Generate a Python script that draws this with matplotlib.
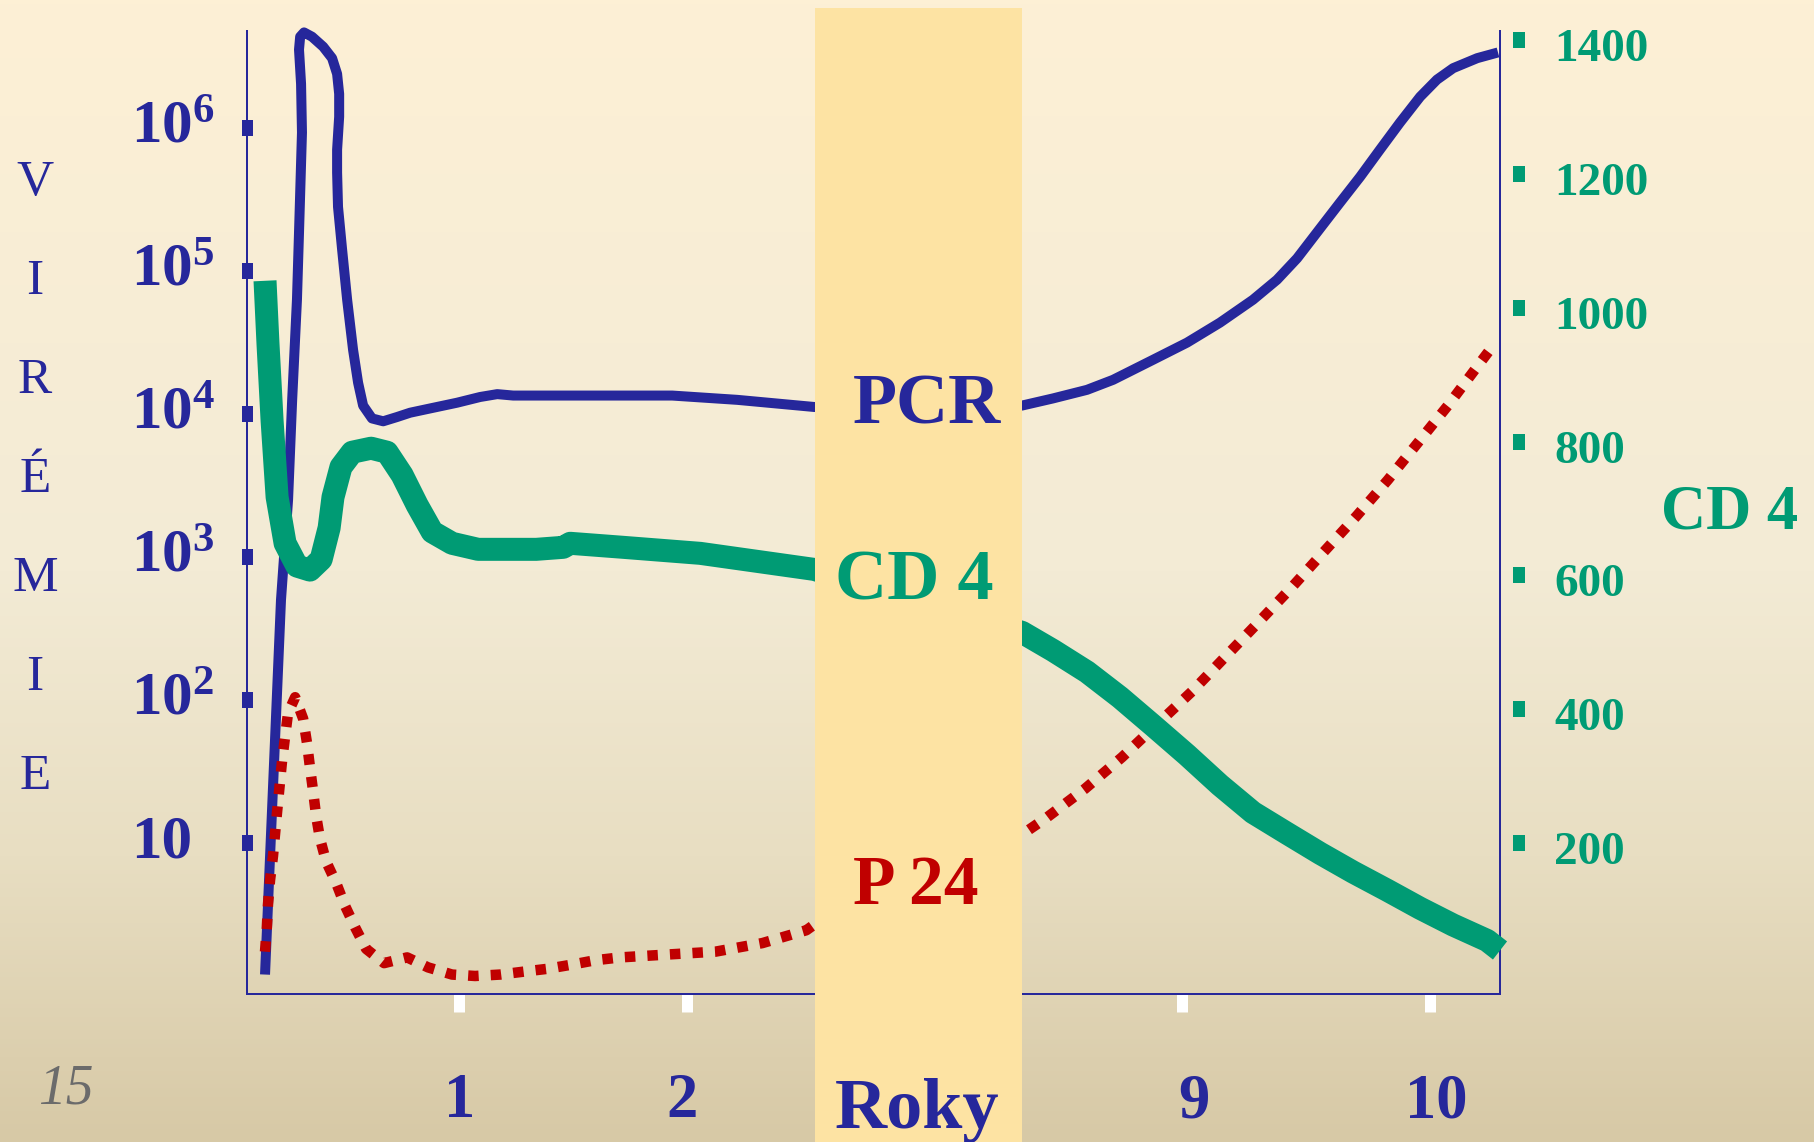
import numpy as np
import matplotlib
matplotlib.use("Agg")
import matplotlib.pyplot as plt
from matplotlib.colors import LinearSegmentedColormap
from matplotlib.ticker import NullLocator
from matplotlib.transforms import ScaledTranslation

# Values (x = years after infection)
pcr_years = [0.149, 0.219, 0.250, 0.268, 0.289, 0.298, 0.311, 0.307, 0.298, 0.303,
             0.320, 0.355, 0.404, 0.443, 0.465, 0.474, 0.474, 0.465, 0.465, 0.469,
             0.487, 0.509, 0.535, 0.557, 0.579, 0.618, 0.667, 0.728, 0.785, 0.873,
             0.991, 1.092, 1.167, 1.237, 1.794, 1.934, 2.219, 2.557,
             8.355, 8.480, 8.617, 8.722, 8.883, 9.020, 9.153, 9.286, 9.383, 9.464,
             9.557, 9.637, 9.718, 9.798, 9.879, 9.960, 10.028, 10.093, 10.190, 10.274]
pcr_log10 = [0.08, 2.70, 3.40, 4.10, 4.80, 5.27, 5.97, 6.31, 6.55, 6.64,
             6.67, 6.64, 6.57, 6.49, 6.38, 6.24, 6.08, 5.85, 5.69, 5.45,
             5.15, 4.80, 4.45, 4.22, 4.06, 3.97, 3.95, 3.98, 4.01, 4.04,
             4.08, 4.12, 4.14, 4.13, 4.13, 4.13, 4.10, 4.05,
             4.06, 4.11, 4.17, 4.24, 4.38, 4.50, 4.64, 4.80, 4.94, 5.09,
             5.30, 5.48, 5.66, 5.85, 6.04, 6.22, 6.34, 6.42, 6.49, 6.53]

cd4_years = [0.149, 0.162, 0.180, 0.202, 0.237, 0.289, 0.346, 0.395, 0.430, 0.447,
             0.482, 0.531, 0.614, 0.684, 0.750, 0.816, 0.882, 0.969, 1.083, 1.338,
             1.456, 1.487, 1.719, 2.057, 2.557,
             8.355, 8.48, 8.617, 8.75, 8.883, 9.02, 9.153, 9.286, 9.423, 9.557,
             9.69, 9.827, 9.96, 10.093, 10.23, 10.282]
cd4_cells = [1040, 946, 831, 717, 648, 614, 608, 624, 671, 717,
             762, 784, 790, 784, 750, 705, 665, 648, 639, 639,
             642, 648, 642, 633, 609,
             515, 488, 456, 418, 376, 332, 287, 246, 215, 185,
             157, 130, 103, 78, 55, 40]

p24_years = [0.149, 0.157, 0.162, 0.171, 0.184, 0.202, 0.224, 0.250, 0.281, 0.316,
             0.333, 0.346, 0.360, 0.373, 0.390, 0.417, 0.461, 0.5, 0.544, 0.592,
             0.671, 0.772, 0.864, 0.969, 1.07, 1.18, 1.281, 1.386, 1.496, 1.596,
             1.706, 1.912, 2.123, 2.329, 2.522, 2.557,
             8.355, 8.456, 8.609, 8.758, 8.899, 9.04, 9.173, 9.306, 9.443, 9.568,
             9.705, 9.83, 9.951, 10.072, 10.189, 10.25]
p24_log10 = [0.24, 0.41, 0.57, 0.74, 0.91, 1.22, 1.58, 1.91, 2.02, 1.87,
             1.70, 1.53, 1.36, 1.19, 1.03, 0.87, 0.72, 0.56, 0.41, 0.26,
             0.16, 0.20, 0.13, 0.08, 0.07, 0.08, 0.10, 0.12, 0.15, 0.18,
             0.20, 0.22, 0.24, 0.30, 0.39, 0.43,
             1.06, 1.18, 1.38, 1.60, 1.83, 2.06, 2.30, 2.54, 2.79, 3.03,
             3.29, 3.54, 3.80, 4.06, 4.33, 4.47]

year_ticks = [1, 2, 9, 10]
year_labels = ["1", "2", "9", "10"]
vir_ticks = [10, 1e2, 1e3, 1e4, 1e5, 1e6]
vir_labels = ["10", r"$10^{2}$", r"$10^{3}$", r"$10^{4}$", r"$10^{5}$", r"$10^{6}$"]
cd4_ticks = [200, 400, 600, 800, 1000, 1200, 1400]
cd4_labels = ["200", "400", "600", "800", "1000", "1200", "1400"]

# hidden years 3-8 sit under the band
hidden_from, hidden_to = 2.56, 8.355

BLUE = "#26279B"
GREEN = "#009B74"
RED = "#C00000"
BAND = "#FDE3A3"

W, H = 1814, 1142
PX = 72 / 100  # points per pixel

plt.rcParams["font.family"] = "Liberation Serif"
plt.rcParams["font.weight"] = "bold"
plt.rcParams["mathtext.fontset"] = "custom"
plt.rcParams["mathtext.rm"] = "Liberation Serif:bold"
plt.rcParams["mathtext.it"] = "Liberation Serif:bold"
plt.rcParams["mathtext.bf"] = "Liberation Serif:bold"

fig = plt.figure(figsize=(W / 100, H / 100), dpi=100)

# background gradient
bg = fig.add_axes([0, 0, 1, 1], zorder=-5)
cmap = LinearSegmentedColormap.from_list(
    "bg", [(0, "#FDF0D5"), (0.5, "#F3EBD5"), (0.75, "#E8DEC2"), (1, "#D7C9A6")])
bg.imshow(np.linspace(0, 1, 256).reshape(-1, 1), cmap=cmap, aspect="auto",
          extent=[0, 1, 0, 1])
bg.axis("off")

# compressed time axis: years 2.56..8.355 squeezed under the band
yr_knots = [-1, hidden_from, hidden_to, 12]
pos_knots = [3, 815, 1022, 1926]
def fwd(t):
    return np.interp(t, yr_knots, pos_knots)
def inv(p):
    return np.interp(p, pos_knots, yr_knots)

ax = fig.add_axes([247 / W, 1 - 994 / H, 1253 / W, 963 / H])
ax.set_facecolor("none")
ax.set_xscale("function", functions=(fwd, inv))
ax.set_yscale("log")
ax.set_xlim(0.070, 10.282)
ax.set_ylim(10 ** -0.056, 10 ** 6.68)

ax.plot(pcr_years, 10 ** np.array(pcr_log10), color=BLUE, lw=10 * PX,
        solid_capstyle="butt", solid_joinstyle="round", clip_on=False, zorder=3)
ax.plot(p24_years, 10 ** np.array(p24_log10), color=RED, lw=10.5 * PX,
        ls=(0, (1, 1.15)), dash_capstyle="butt", clip_on=False, zorder=4)

ax.spines["top"].set_visible(False)
for s in ["left", "bottom", "right"]:
    ax.spines[s].set_color(BLUE)
    ax.spines[s].set_linewidth(2 * PX)

ax.set_yticks(vir_ticks, vir_labels)
ax.yaxis.set_minor_locator(NullLocator())
ax.tick_params(axis="y", which="major", direction="inout", length=11 * PX,
               width=16 * PX, color=BLUE, pad=79.6, labelsize=44, labelcolor=BLUE)
ax.set_xticks(year_ticks, year_labels)
ax.xaxis.set_minor_locator(NullLocator())
ax.tick_params(axis="x", which="major", direction="out", length=18 * PX,
               width=11 * PX, color="white", pad=44, labelsize=45, labelcolor=BLUE)

# left labels are left-aligned in the slide and sit a little high
up = ScaledTranslation(0, 7 / 100, fig.dpi_scale_trans)
for lab in ax.get_yticklabels():
    lab.set_horizontalalignment("left")
    lab.set_transform(lab.get_transform() + up)
x_shift = [0, -5, 12, 6]
for lab, dx in zip(ax.get_xticklabels(), x_shift):
    lab.set_transform(lab.get_transform() + ScaledTranslation(dx / 100, 0, fig.dpi_scale_trans))

# CD4 on its own right axis
ax2 = ax.twinx()
ax2.set_ylim(-25, 1413)
ax2.plot(cd4_years, cd4_cells, color=GREEN, lw=23 * PX, solid_capstyle="butt",
         solid_joinstyle="round", clip_on=False, zorder=2)
for s in ["left", "bottom", "top"]:
    ax2.spines[s].set_visible(False)
ax2.spines["right"].set_position(("outward", 13 * PX))
ax2.spines["right"].set_color("none")
ax2.set_yticks(cd4_ticks, cd4_labels)
ax2.tick_params(axis="y", direction="out", length=12 * PX, width=16 * PX,
                color=GREEN, pad=21, labelsize=34, labelcolor=GREEN)
down = ScaledTranslation(0, -5 / 100, fig.dpi_scale_trans)
for lab in ax2.get_yticklabels():
    lab.set_transform(lab.get_transform() + down)

# band hiding years 3-8
ax2.axvspan(hidden_from, hidden_to, ymin=-0.1537, ymax=1.0239, color=BAND, lw=0,
            clip_on=False, zorder=5)

# texts
def ftext(x, y, s, **kw):
    fig.text(x / W, 1 - y / H, s, ha="center", va="baseline", **kw)

ftext(927, 423, "PCR", fontsize=52, color=BLUE)
ftext(914, 599, "CD 4", fontsize=52, color=GREEN)
ftext(916, 904, "P 24", fontsize=50, color=RED)
ftext(917, 1128, "Roky", fontsize=52, color=BLUE)
ftext(1730, 528, "CD 4", fontsize=45, color=GREEN)
ftext(66, 1103, "15", fontsize=40, color="#6B6B6B", fontweight="normal",
      fontstyle="italic")

for i, letter in enumerate("VIRÉMIE"):
    ftext(35, 195 + 99 * i, letter, fontsize=37, color=BLUE, fontweight="normal")

fig.savefig("out.png", dpi=100)
